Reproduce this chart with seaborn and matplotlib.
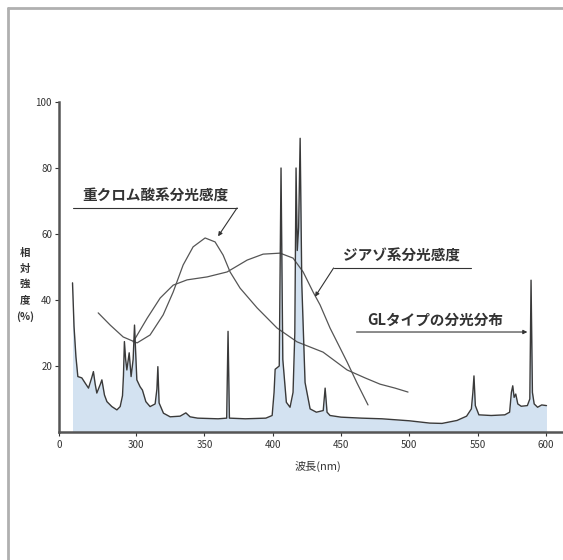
import matplotlib
matplotlib.use("Agg")
import matplotlib.pyplot as plt
import seaborn as sns
import pandas as pd
from matplotlib.lines import Line2D

# ---------------- data ----------------
spec_wl = [253.4, 254.5, 255.9, 257.3, 260.2, 262.7, 265.1, 267.5, 268.7, 270.0,
           271.2, 273.8, 274.9, 276.8, 278.6, 282.2, 285.9, 288.3, 290.0, 290.7,
           291.4, 292.3, 293.2, 294.9, 296.3, 297.8, 298.8, 300.5, 302.9, 304.6,
           307.1, 310.2, 313.9, 315.2, 315.9, 316.8, 320.0, 324.9, 332.2, 336.4,
           339.5, 345.0, 360.0, 366.3, 367.3, 368.3, 380.0, 395.0, 399.6, 401.0,
           401.8, 404.8, 406.1, 407.4, 410.0, 412.7, 414.9, 416.2, 417.1, 418.0,
           419.0, 420.1, 421.3, 423.7, 427.4, 432.0, 437.0, 438.4, 439.8, 442.0,
           450.0, 465.0, 480.0, 500.0, 515.0, 524.0, 535.0, 542.0, 545.5, 546.6,
           547.4, 548.4, 551.0, 560.0, 570.0, 573.5, 574.8, 575.8, 576.8, 578.0,
           579.5, 582.0, 586.5, 588.3, 589.2, 590.2, 591.5, 594.0, 597.0, 600.5]
spec_val = [45.2, 32.0, 22.8, 16.8, 16.4, 14.8, 13.3, 16.5, 18.3, 14.5,
            11.8, 14.5, 15.8, 11.2, 9.2, 7.7, 6.7, 7.7, 11.0, 17.0,
            27.4, 22.0, 18.8, 24.0, 16.8, 22.0, 32.4, 15.8, 13.7, 12.7,
            9.2, 7.7, 8.5, 13.0, 19.8, 8.8, 5.7, 4.6, 4.8, 5.8,
            4.6, 4.2, 4.0, 4.2, 30.5, 4.2, 4.0, 4.2, 5.0, 12.0,
            19.0, 20.0, 80.0, 22.0, 9.0, 7.5, 12.0, 30.0, 80.0, 55.0,
            62.0, 89.0, 45.0, 15.0, 7.0, 6.0, 6.5, 13.3, 6.0, 5.0,
            4.5, 4.2, 4.0, 3.4, 2.7, 2.6, 3.5, 4.8, 7.0, 12.0,
            17.0, 8.0, 5.2, 5.0, 5.2, 6.0, 12.0, 14.0, 10.5, 11.5,
            8.5, 7.8, 8.0, 10.0, 46.0, 12.0, 8.5, 7.5, 8.2, 8.0]

dichro_wl = [272.2, 281.0, 290.5, 300.7, 310.2, 319.8, 327.1, 334.4, 341.7, 350.5,
             357.8, 363.7, 368.8, 376.1, 388.6, 403.2, 417.9, 436.9, 454.5, 467.6,
             478.6, 489.6, 499.1]
dichro_val = [36.1, 32.4, 28.8, 27.0, 29.4, 35.5, 42.4, 50.6, 56.1, 58.8,
              57.6, 53.6, 48.5, 43.6, 37.6, 31.5, 27.3, 24.2, 18.8, 16.4,
              14.5, 13.3, 12.1]

diazo_wl = [297.8, 308.1, 317.6, 327.1, 337.3, 352.0, 366.6, 381.3, 393.0, 405.4,
            414.9, 422.3, 429.6, 434.7, 442.0, 449.3, 454.5, 461.8, 469.8]
diazo_val = [27.3, 34.5, 40.6, 44.5, 46.1, 47.0, 48.5, 52.1, 53.9, 54.2,
             52.7, 48.5, 42.4, 38.5, 31.5, 25.5, 21.2, 14.8, 8.2]

xtick_pos = [243.5, 300, 350, 400, 450, 500, 550, 600]
xtick_lab = ["0", "300", "350", "400", "450", "500", "550", "600"]
ytick_pos = [20, 40, 60, 80, 100]
ytick_lab = ["20", "40", "60", "80", "100"]

label_dichro = "重クロム酸系分光感度"
label_diazo = "ジアゾ系分光感度"
label_gl = "GLタイプの分光分布"
xlabel = "波長(nm)"
ylabel = "相\n対\n強\n度\n(%)"

# ---------------- style ----------------
sns.set_theme(style="white")
plt.rcParams['font.family'] = ['Noto Sans CJK JP', 'DejaVu Sans']

W, H = 563, 560
fig = plt.figure(figsize=(W / 100, H / 100), dpi=100)
fig.patch.set_facecolor("white")

ax_left, ax_right, ax_top, ax_bot = 59, 563, 102, 432
ax = fig.add_axes([ax_left / W, 1 - ax_bot / H, (ax_right - ax_left) / W, (ax_bot - ax_top) / H])
ax.set_facecolor("none")

spec = pd.DataFrame({"wl": spec_wl, "val": spec_val})
dich = pd.DataFrame({"wl": dichro_wl, "val": dichro_val})
diaz = pd.DataFrame({"wl": diazo_wl, "val": diazo_val})

ax.fill_between(spec["wl"], 0, spec["val"], color="#d3e2f1", lw=0, zorder=1)
sns.lineplot(data=spec, x="wl", y="val", ax=ax, color="#3a3a3a", lw=1.0, zorder=3,
             estimator=None, sort=False)
sns.lineplot(data=dich, x="wl", y="val", ax=ax, color="#555555", lw=0.9, zorder=2,
             estimator=None, sort=False)
sns.lineplot(data=diaz, x="wl", y="val", ax=ax, color="#555555", lw=0.9, zorder=2,
             estimator=None, sort=False)

ax.set_xlim(243.5, 612.6)
ax.set_ylim(0, 100)
ax.set_xticks(xtick_pos)
ax.set_xticklabels(xtick_lab)
ax.set_yticks(ytick_pos)
ax.set_yticklabels(ytick_lab)
ax.tick_params(axis="both", direction="out", length=3, width=0.8, colors="#333333",
               labelsize=7, pad=2)
ax.tick_params(axis="x", pad=3)
ax.tick_params(bottom=True, left=True)
for s in ["top", "right"]:
    ax.spines[s].set_visible(False)
for s in ["left", "bottom"]:
    ax.spines[s].set_color("#555555")
    ax.spines[s].set_linewidth(1.8)
ax.set_xlabel("")
ax.set_ylabel("")

# axis labels
fig.text(318 / W, 1 - 466 / H, xlabel, ha="center", va="center", fontsize=8,
         color="#333333")
fig.text(25 / W, 1 - 285 / H, ylabel, ha="center", va="center", fontsize=7.5,
         color="#333333", linespacing=1.7, fontweight="bold")

ann_color = "#333333"
# dichromate label
ax.text(313.9, 69.3, label_dichro, ha="center", va="bottom", fontsize=10.5,
        color=ann_color, fontweight="bold")
ax.plot([253.9, 373.9], [67.9, 67.9], color=ann_color, lw=0.8)
ax.annotate("", xy=(360.0, 59.3), xytext=(373.9, 67.9),
            arrowprops=dict(arrowstyle="-|>", color=ann_color, lw=0.8,
                            mutation_scale=6, shrinkA=0, shrinkB=0))

# diazo label
ax.text(494.0, 51.1, label_diazo, ha="center", va="bottom", fontsize=10.5,
        color=ann_color, fontweight="bold")
ax.plot([444.6, 545.0], [49.7, 49.7], color=ann_color, lw=0.8)
ax.annotate("", xy=(431.0, 41.0), xytext=(444.6, 49.7),
            arrowprops=dict(arrowstyle="-|>", color=ann_color, lw=0.8,
                            mutation_scale=6, shrinkA=0, shrinkB=0))

# GL label
ax.text(519.0, 31.6, label_gl, ha="center", va="bottom", fontsize=10.5,
        color=ann_color, fontweight="bold")
ax.annotate("", xy=(586.5, 30.3), xytext=(461.4, 30.3),
            arrowprops=dict(arrowstyle="-|>", color=ann_color, lw=0.8,
                            mutation_scale=6, shrinkA=0, shrinkB=0))

# outer frame of the scanned figure
fx = 8 / W
fy = 1 - 8 / H
fig.add_artist(Line2D([fx, fx], [0, fy], transform=fig.transFigure, color="#b0b0b0", lw=2))
fig.add_artist(Line2D([fx, 1], [fy, fy], transform=fig.transFigure, color="#b0b0b0", lw=2))

fig.savefig("out.png", dpi=100, facecolor="white")
